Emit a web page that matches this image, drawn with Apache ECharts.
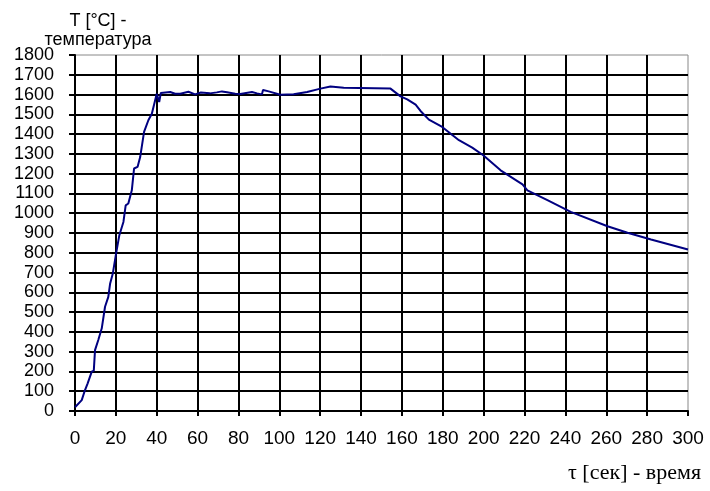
<!DOCTYPE html>
<html>
<head>
<meta charset="utf-8">
<script src="https://cdn.jsdelivr.net/npm/echarts@6/dist/echarts.min.js"></script>
<style>
  html, body { margin: 0; padding: 0; background: #fff; }
  #chart { width: 710px; height: 491px; }
</style>
</head>
<body>
<div id="chart"></div>
<script>
// time, seconds
const timeSec = [
  0, 3.3, 4.9, 6.2, 8.2, 9.2, 9.8, 11.4, 13.1, 14.7, 16.3, 17.2, 18.5, 20.1,
  21.7, 23.7, 24.8, 26.1, 27.8, 28.9, 30.6, 31.9, 33.8, 35.9, 37.6, 40.0,
  41.2, 42.0, 46.6, 49, 51.5, 55.5, 58.8, 61.6, 66, 69.4, 71.9, 72.7, 74.4,
  78.4, 80.9, 86.6, 89.1, 91.5, 92, 94.8, 100.5, 107, 113.6, 120.1, 125,
  131.5, 154.4, 159.3, 162.6, 166.7, 169.1, 173.2, 179.7, 187.9, 194.4,
  199.8, 208.3, 219, 221.4, 231.2, 242.6, 260.6, 270.4, 281.9, 300
];
// temperature, °C
const tempC = [
  19, 55, 106, 140, 199, 204, 308, 359, 418, 527, 577, 645, 695, 796,
  889, 956, 1040, 1049, 1116, 1226, 1234, 1284, 1411, 1470, 1503, 1604,
  1562, 1608, 1613, 1604, 1604, 1614, 1601, 1610, 1606, 1611, 1616, 1609, 1612,
  1604, 1603, 1613, 1606, 1601, 1623, 1616, 1599, 1601, 1613, 1630, 1641,
  1634, 1630, 1591, 1576, 1549, 1517, 1473, 1436, 1369, 1332,
  1293, 1217, 1146, 1116, 1066, 1007, 934, 901, 867, 817
];
const yTitle = 'T [°C] -\nтемпература';
const xTitle = 'τ [сек] - время';

const chart = echarts.init(document.getElementById('chart'));
chart.setOption({
  animation: false,
  backgroundColor: '#fff',
  grid: {
    left: 75, right: 22, top: 55, bottom: 80,
    show: true, borderColor: '#888', borderWidth: 1
  },
  title: [
    {
      text: yTitle, left: 93, top: 7, textAlign: 'center',
      textStyle: { fontFamily: 'Liberation Sans', fontSize: 18, fontWeight: 'normal', color: '#000', lineHeight: 19, align: 'center' }
    },
    {
      text: xTitle, right: 4, top: 457,
      textStyle: { fontFamily: 'Liberation Serif', fontSize: 22, fontWeight: 'normal', color: '#000' }
    }
  ],
  xAxis: {
    type: 'value', min: 0, max: 300, interval: 20,
    axisLine: { show: true, onZero: false, lineStyle: { color: '#000', width: 2 } },
    axisTick: { show: true, length: 5, lineStyle: { color: '#000', width: 2 } },
    axisLabel: { fontFamily: 'Liberation Sans', fontSize: 19, color: '#000', margin: 18, showMaxLabel: true },
    splitLine: { show: true, showMaxLine: false, lineStyle: { color: '#000', width: 2 } }
  },
  yAxis: {
    type: 'value', min: 0, max: 1800, interval: 100,
    axisLine: { show: true, lineStyle: { color: '#000', width: 2 } },
    axisTick: { show: true, length: 6, lineStyle: { color: '#000', width: 2 } },
    axisLabel: { fontFamily: 'Liberation Sans', fontSize: 18, color: '#000', margin: 21, formatter: v => String(v) },
    splitLine: { show: true, showMaxLine: false, lineStyle: { color: '#000', width: 2 } }
  },
  series: [{
    type: 'line',
    data: timeSec.map((t, i) => [t, tempC[i]]),
    showSymbol: false,
    lineStyle: { color: '#000080', width: 2 }
  }]
});
</script>
</body>
</html>
